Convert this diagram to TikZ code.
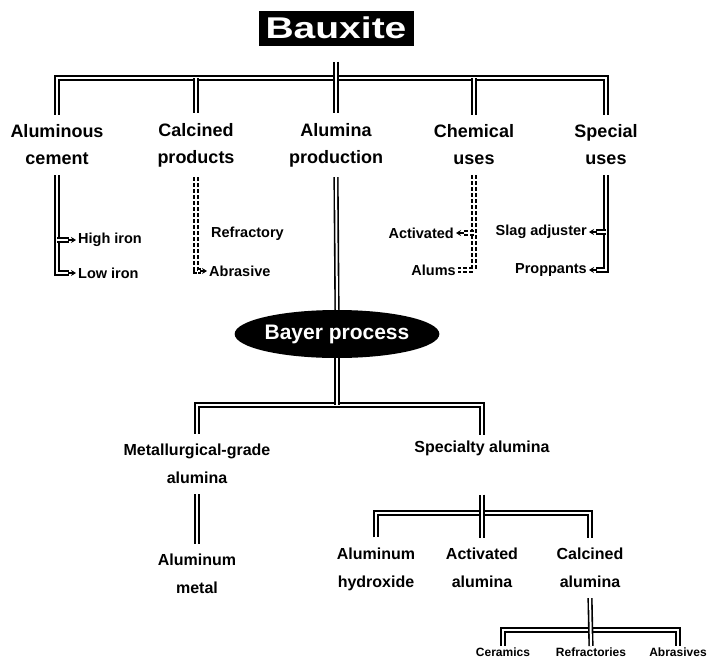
\documentclass[tikz,border=0pt]{standalone}
\usepackage{fontspec}
\setmainfont{Liberation Sans}
\usepackage{tikz}
\usetikzlibrary{arrows.meta,positioning,shapes.geometric}

\begin{document}
\begin{tikzpicture}[
    x=1pt, y=-1pt,
    pipe/.style={
        draw=black,
        double=white,
        double distance=2pt,
        line width=1.6pt
    },
    dashpipe/.style={
        pipe,
        dash pattern=on 4pt off 2pt
    },
    hook/.style={
        -{Stealth[length=5pt,width=6pt]},
        line width=1.4pt
    },
    label/.style={
        align=center,
        inner xsep=3pt,
        inner ysep=10pt,
        font=\fontsize{18}{27}\selectfont\bfseries
    },
    sublabel/.style={
        align=center,
        inner xsep=3pt,
        inner ysep=10pt,
        font=\fontsize{16}{28}\selectfont\bfseries
    },
    leaf/.style={
        inner sep=2pt,
        font=\fontsize{14.5}{16}\selectfont\bfseries
    },
    small/.style={
        inner sep=2pt,
        font=\fontsize{12}{13}\selectfont\bfseries
    }
]

\useasboundingbox (0,0) rectangle (710,662);

% ==================================================
% Top: Bauxite and its uses
% ==================================================

\node[
    fill=black,
    text=white,
    minimum width=155pt,
    minimum height=35pt,
    inner sep=0pt,
    font=\fontsize{30}{30}\selectfont\bfseries
] (bauxite) at (336,28) {\scalebox{1.3}[1]{Bauxite}};

\node[label] (cement) at (57,145) {Aluminous\\cement};
\node[label] (calcined) at (196,145) {Calcined\\products};
\node[label] (production) at (336,145) {Alumina\\production};
\node[label] (chemical) at (474,145) {Chemical\\uses};
\node[label] (special) at (606,145) {Special\\uses};

\coordinate (topbar) at (336,78);


% ==================================================
% Leaves of the first level
% ==================================================

\node[leaf, anchor=west] (highiron) at (76,240) {High iron};
\node[leaf, anchor=west] (lowiron) at (76,273) {Low iron};

\node[leaf, anchor=west] (refractory) at (209,234) {Refractory};
\node[leaf, anchor=west] (abrasive) at (207,271) {Abrasive};

\node[leaf, anchor=east] (activated) at (456,233) {Activated};
\node[leaf, anchor=east] (alums) at (458,270) {Alums};

\node[leaf, anchor=east] (slag) at (589,232) {Slag adjuster};
\node[leaf, anchor=east] (proppants) at (589,270) {Proppants};


% ==================================================
% Bayer process and its products
% ==================================================

\node[
    ellipse,
    fill=black,
    text=white,
    minimum width=160pt,
    minimum height=48pt,
    inner sep=0pt,
    font=\fontsize{21}{21}\selectfont\bfseries
] (bayer) at (337,334) {Bayer process};

\coordinate (bayerbar) at (337,405);

\node[sublabel] (metgrade) at (197,464) {Metallurgical-grade\\alumina};
\node[sublabel, inner ysep=5pt] (specialty) at (482,448) {Specialty alumina};

\node[sublabel] (metal) at (197,574) {Aluminum\\metal};

\coordinate (specbar) at (482,513);

\node[sublabel] (hydroxide) at (376,569) {Aluminum\\hydroxide};
\node[sublabel] (activealu) at (482,568) {Activated\\alumina};
\node[sublabel] (calcalu) at (590,568) {Calcined\\alumina};

\coordinate (calcbar) at (590,630);

\node[small, anchor=north] (ceramics) at (503,646) {Ceramics};
\node[small, anchor=north] (refractories) at (591,646) {Refractories};
\node[small, anchor=north] (abrasives) at (678,646) {Abrasives};


% ==================================================
% Connectors: first level
% ==================================================

\draw[pipe] (cement.north) |- (topbar) -| (special.north);
\draw[pipe] (calcined.north) -- (calcined.north |- topbar);
\draw[pipe] (chemical.north) -- (chemical.north |- topbar);
\draw[pipe, shorten <=16pt] (bauxite.south) -- (production.north);

% Aluminous cement
\draw[pipe, shorten >=7pt] (cement.south) |- (lowiron.west);
\draw[pipe, shorten >=7pt] (cement.south |- highiron.west) -- (highiron.west);
\draw[hook] ([xshift=-8pt]lowiron.west) -- (lowiron.west);
\draw[hook] ([xshift=-8pt]highiron.west) -- (highiron.west);

% Calcined products
\draw[dashpipe, shorten >=6pt] (calcined.south) |- (abrasive.west);
\draw[hook] ([xshift=-7pt]abrasive.west) -- (abrasive.west);

% Chemical uses
\draw[dashpipe] (chemical.south) |- (alums.east);
\draw[dashpipe, shorten >=7pt] (chemical.south |- activated.east) -- (activated.east);
\draw[hook] ([xshift=8pt]activated.east) -- (activated.east);

% Special uses
\draw[pipe, shorten >=7pt] (special.south) |- (proppants.east);
\draw[pipe, shorten >=7pt] (special.south |- slag.east) -- (slag.east);
\draw[hook] ([xshift=8pt]slag.east) -- (slag.east);
\draw[hook] ([xshift=8pt]proppants.east) -- (proppants.east);

% Alumina production
\draw[pipe] (production.south) -- (bayer.north);


% ==================================================
% Connectors: Bayer process
% ==================================================

\draw[pipe] (metgrade.north) |- (bayerbar) -| (specialty.north);
\draw[pipe] (bayer.south) -- (bayerbar);

\draw[pipe] (metgrade.south) -- (metal.north);

\draw[pipe] (hydroxide.north) |- (specbar) -| (calcalu.north);
\draw[pipe, shorten <=34pt] (specialty.south) -- (activealu.north);

\draw[pipe] (ceramics.north) |- (calcbar) -| (abrasives.north);
\draw[pipe] (calcalu.south) -- (refractories.north);

\end{tikzpicture}
\end{document}
